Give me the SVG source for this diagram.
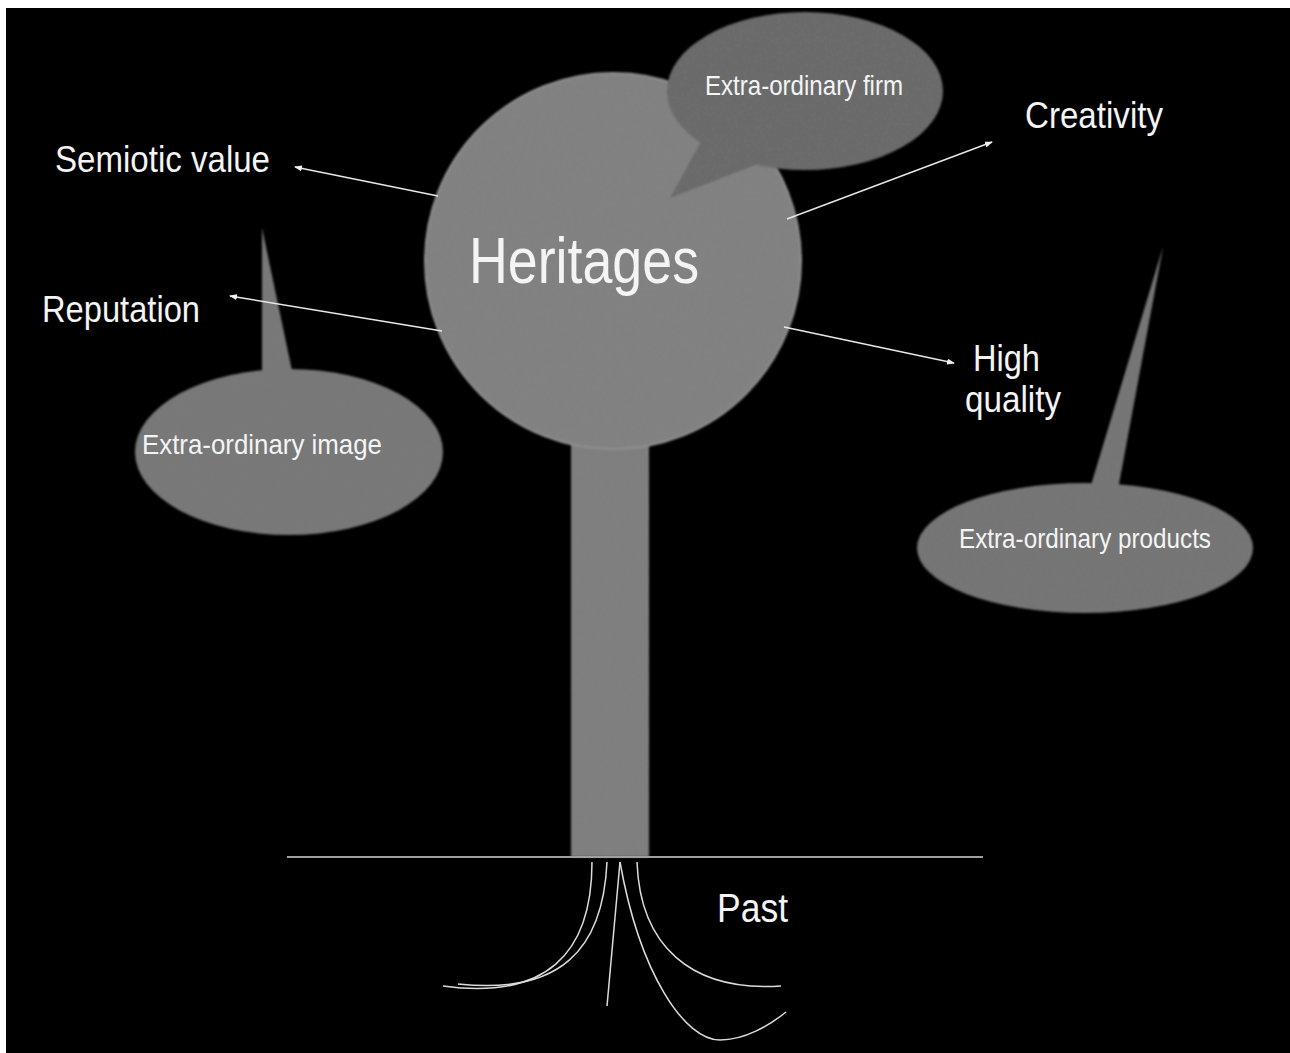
<svg xmlns="http://www.w3.org/2000/svg" width="1290" height="1053" viewBox="0 0 1290 1053">
  <defs>
    <style>
      .lbl { font-family: "Liberation Sans", Arial, sans-serif; fill: #f4f4f4; }
      .shape { filter: url(#soft); }
      .conn { stroke: #e8e8e8; stroke-width: 1.4; fill: none; marker-end: url(#head); }
      .root { stroke: #dcdcdc; stroke-width: 1.5; fill: none; }
    </style>
    <filter id="soft" x="-10%" y="-10%" width="120%" height="120%">
      <feTurbulence type="fractalNoise" baseFrequency="0.9" numOctaves="1" seed="3" result="noise"/>
      <feColorMatrix in="noise" type="matrix" values="0 0 0 0 0.5  0 0 0 0 0.5  0 0 0 0 0.5  0 0 0 0.18 0" result="grain"/>
      <feComposite in="grain" in2="SourceGraphic" operator="in" result="grainIn"/>
      <feMerge result="merged"><feMergeNode in="SourceGraphic"/><feMergeNode in="grainIn"/></feMerge>
      <feGaussianBlur in="merged" stdDeviation="1.1"/>
    </filter>
    <marker id="head" viewBox="0 0 8 6" refX="7" refY="3" markerWidth="8" markerHeight="6" markerUnits="userSpaceOnUse" orient="auto">
      <path d="M0,0 L8,3 L0,6 Z" fill="#f0f0f0"/>
    </marker>
  </defs>

  <rect x="0" y="0" width="1290" height="1053" fill="#ffffff"/>
  <rect x="6" y="8" width="1284" height="1045" fill="#000000"/>

  <g id="trunk" class="shape">
    <rect x="571" y="420" width="78" height="437" fill="#777777"/>
  </g>

  <g id="heritages" class="shape">
    <circle cx="613" cy="261" r="188" fill="#7a7a7a" stroke="#8a8a8a" stroke-width="2"/>
  </g>

  <g id="bubble-firm" class="shape">
    <ellipse cx="805" cy="91" rx="138" ry="79" fill="#5f5f5f"/>
    <polygon points="703,138 670,198 760,163 790,150" fill="#5f5f5f"/>
  </g>

  <g id="bubble-image" class="shape">
    <polygon points="262,228 262,380 294,380" fill="#707070"/>
    <ellipse cx="289" cy="452" rx="154" ry="83" fill="#707070"/>
  </g>

  <g id="bubble-products" class="shape">
    <polygon points="1163,247 1088,495 1117,495" fill="#6c6c6c"/>
    <ellipse cx="1085" cy="548" rx="168" ry="65" fill="#6c6c6c"/>
  </g>

  <g id="ground">
    <line x1="287" y1="857" x2="983" y2="857" stroke="#a0a0a0" stroke-width="2"/>
  </g>

  <g id="connectors">
    <line class="conn" x1="438" y1="196" x2="295" y2="167"/>
    <line class="conn" x1="442" y1="331" x2="230" y2="296"/>
    <line class="conn" x1="787" y1="219" x2="992" y2="142"/>
    <line class="conn" x1="784" y1="327" x2="954" y2="363"/>
  </g>

  <g id="roots">
    <path class="root" d="M592,862 C592,955 545,1000 443,986"/>
    <path class="root" d="M607,862 C603,950 560,995 458,984"/>
    <path class="root" d="M620,862 L607,1006"/>
    <path class="root" d="M620,862 C640,975 685,1040 720,1040 C745,1040 770,1025 786,1012"/>
    <path class="root" d="M637,862 C640,945 690,992 781,986"/>
  </g>

  <g id="labels">
    <text class="lbl" x="469" y="283" font-size="64" textLength="230" lengthAdjust="spacingAndGlyphs">Heritages</text>
    <text class="lbl" x="705" y="95" font-size="28" textLength="198" lengthAdjust="spacingAndGlyphs">Extra-ordinary firm</text>
    <text class="lbl" x="55" y="172" font-size="37" textLength="215" lengthAdjust="spacingAndGlyphs">Semiotic value</text>
    <text class="lbl" x="42" y="322" font-size="37" textLength="158" lengthAdjust="spacingAndGlyphs">Reputation</text>
    <text class="lbl" x="1025" y="128" font-size="37" textLength="138" lengthAdjust="spacingAndGlyphs">Creativity</text>
    <text class="lbl" x="973" y="371" font-size="37" textLength="67" lengthAdjust="spacingAndGlyphs">High</text>
    <text class="lbl" x="965" y="412" font-size="37" textLength="96" lengthAdjust="spacingAndGlyphs">quality</text>
    <text class="lbl" x="142" y="454" font-size="28" textLength="240" lengthAdjust="spacingAndGlyphs">Extra-ordinary image</text>
    <text class="lbl" x="959" y="548" font-size="28" textLength="252" lengthAdjust="spacingAndGlyphs">Extra-ordinary products</text>
    <text class="lbl" x="717" y="922" font-size="40" textLength="71" lengthAdjust="spacingAndGlyphs">Past</text>
  </g>
</svg>
